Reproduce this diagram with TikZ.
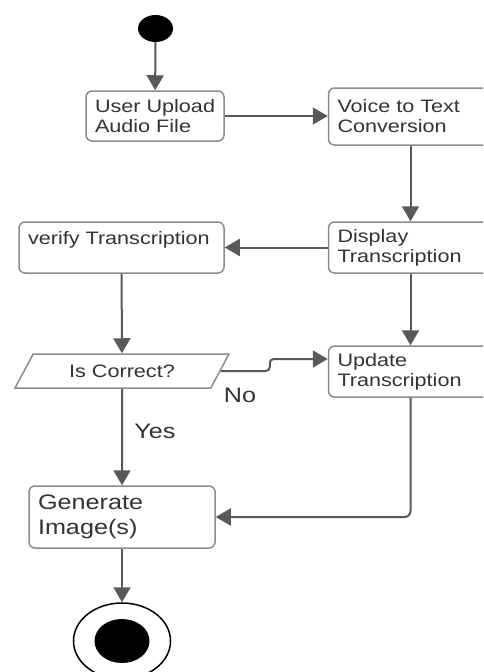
\documentclass[tikz,border=0pt]{standalone}
\usepackage{fontspec}
\setmainfont{Liberation Sans}[FakeStretch=1.2]
\usepackage{tikz}
\usetikzlibrary{shapes.geometric,arrows.meta}

\definecolor{linegray}{HTML}{595959}
\definecolor{boxgray}{HTML}{8C8C8C}
\definecolor{textgray}{HTML}{333333}

\tikzset{
  action/.style={draw=boxgray, line width=1.5pt, rounded corners=6pt, fill=white,
    text=textgray, inner xsep=9pt, inner ysep=0pt, align=left,
    font=\fontsize{18}{20}\selectfont},
  flow/.style={draw=linegray, line width=2pt, -{Triangle[length=15pt,width=17pt]}},
  lbl/.style={text=textgray, inner sep=0pt, font=\fontsize{21}{25}\selectfont}
}

\begin{document}
\begin{tikzpicture}[x=1pt,y=-1pt]
\clip (0,0) rectangle (483,672);
\node[ellipse, fill=black, minimum width=35pt, minimum height=27pt, inner sep=0pt] (start) at (155.5,28.5) {};
\node[action, minimum height=50pt, text width=120pt] (upload) at (155,116) {\mbox{User Upload}\\\mbox{Audio File}};
\node[action, minimum height=57pt, text width=146pt] (voice) at (410.5,116.5) {\mbox{Voice to Text}\\\mbox{Conversion}};
\node[action, minimum height=51pt, text width=146pt] (display) at (410.5,247.5) {\mbox{Display}\\\mbox{Transcription}};
\node[action, minimum height=51pt, text width=187pt] (verify) at (121.5,247.5) {\mbox{verify Transcription}\\\mbox{}};
\node[trapezium, trapezium left angle=35, trapezium right angle=145, trapezium stretches body,
  draw=boxgray, line width=1.5pt, minimum width=214pt, minimum height=34pt, inner sep=0pt,
  text=textgray, font=\fontsize{18}{20}\selectfont] (correct) at (122,371) {Is Correct?};
\node[action, minimum height=51pt, text width=146pt] (update) at (410.5,371.5) {\mbox{Update}\\\mbox{Transcription}};
\node[action, minimum height=62pt, text width=168pt, font=\fontsize{21}{25}\selectfont] (generate) at (122,517) {\mbox{Generate}\\\mbox{Image(s)}};
\node[ellipse, draw=black, line width=1.5pt, minimum width=97pt, minimum height=76pt, inner sep=0pt] (end) at (122,641) {};
\node[ellipse, fill=black, minimum width=55pt, minimum height=44pt, inner sep=0pt] (enddot) at (end) {};
\node[lbl] (no) at (240,395) {No};
\node[lbl] (yes) at (155,431) {Yes};
% connectors
\draw[flow] (start) -- (upload);
\draw[flow] (upload.east) -- (upload.east -| voice.west);
\draw[flow] (voice) -- (display);
\draw[flow] (display) -- (verify);
\draw[flow] (verify) -- (correct);
\draw[flow] (display) -- (update);
\draw[flow, rounded corners=4pt] (correct.east) -- ++(49,0) |- ([yshift=12.5pt]update.west);
\draw[flow] (correct) -- (generate);
\draw[flow, rounded corners=6pt] (update.south) |- (generate.east);
\draw[flow] (generate) -- (end);
\end{tikzpicture}
\end{document}
